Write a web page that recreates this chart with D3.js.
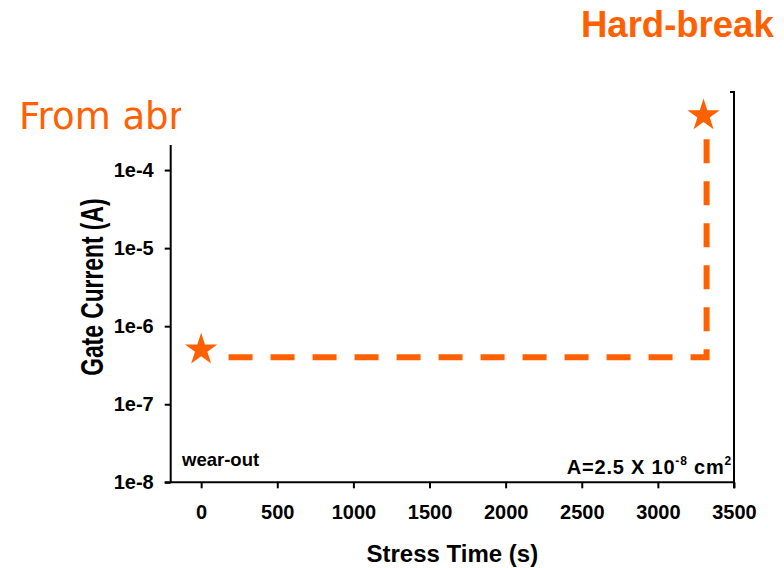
<!DOCTYPE html>
<html>
<head>
<meta charset="utf-8">
<script src="https://cdn.jsdelivr.net/npm/d3@7"></script>
<style>
  html, body { margin: 0; padding: 0; background: #fff; }
  svg { display: block; }
  text { font-family: "Liberation Sans", Arial, sans-serif; }
</style>
</head>
<body>
<svg id="chart" width="784" height="568"></svg>
<script>
// Gate current vs. stress time: wear-out level followed by a hard breakdown
const stressTimes = [0, 3300];             // s, breakdown markers
const gateCurrents = [5e-7, 5e-4];         // A
const traceTimes = [180, 3320, 3320];      // s, dashed trace
const traceCurrents = [4e-7, 4e-7, 2.5e-4];// A
const xTickValues = [0, 500, 1000, 1500, 2000, 2500, 3000, 3500];
const yTickValues = [1e-8, 1e-7, 1e-6, 1e-5, 1e-4];
const yTickLabels = ["1e-8", "1e-7", "1e-6", "1e-5", "1e-4"];

const orange = "#ff6000";
const svg = d3.select("#chart");

const x = d3.scaleLinear().domain([-200, 3500]).range([170.7, 734]);
const y = d3.scaleLog().domain([1e-8, 1e-3]).range([482.3, 92]);

// Slide headings
svg.append("text")
  .attr("x", 581).attr("y", 36.7)
  .attr("fill", orange)
  .style("font-weight", "bold").style("font-size", "36.5px")
  .text("Hard-break");

svg.append("clipPath").attr("id", "subClip")
  .append("rect").attr("x", 0).attr("y", 80).attr("width", 181).attr("height", 70);
svg.append("text")
  .attr("x", 19).attr("y", 129.3)
  .attr("clip-path", "url(#subClip)")
  .attr("fill", orange)
  .style("font-family", "'DejaVu Sans', sans-serif")
  .style("font-size", "37px")
  .text("From abrupt");

// Axes
const yAxis = d3.axisLeft(y)
  .tickValues(yTickValues)
  .tickFormat((d, i) => yTickLabels[i])
  .tickSize(6).tickSizeOuter(0).tickPadding(11);
const gy = svg.append("g").attr("transform", `translate(${x.range()[0]},0)`).call(yAxis);
gy.select(".domain").remove();

const xAxis = d3.axisBottom(x)
  .tickValues(xTickValues)
  .tickFormat(d3.format("d"))
  .tickSize(6).tickSizeOuter(0).tickPadding(17);
const gx = svg.append("g").attr("transform", `translate(0,${y.range()[0]})`).call(xAxis);
gx.select(".domain").remove();

[gx, gy].forEach(g => {
  g.selectAll(".tick line").attr("stroke", "#000").attr("stroke-width", 2);
  g.selectAll(".tick text")
    .attr("fill", "#000")
    .style("font-weight", "bold").style("font-size", "20px");
});

// Frame lines
const frame = svg.append("g").attr("stroke", "#000").attr("stroke-width", 2).attr("fill", "none");
frame.append("line")   // left spine
  .attr("x1", x.range()[0]).attr("x2", x.range()[0])
  .attr("y1", 145).attr("y2", y.range()[0]);
frame.append("line")   // bottom spine
  .attr("x1", x.range()[0] - 6).attr("x2", x.range()[1])
  .attr("y1", y.range()[0]).attr("y2", y.range()[0]);
frame.append("line")   // right spine
  .attr("x1", x.range()[1]).attr("x2", x.range()[1])
  .attr("y1", y.range()[1]).attr("y2", y.range()[0] + 6);
frame.append("line")   // top-right corner
  .attr("x1", x.range()[1] - 4).attr("x2", x.range()[1] + 1)
  .attr("y1", y.range()[1]).attr("y2", y.range()[1]);

// Axis titles
svg.append("text")
  .attr("x", (x.range()[0] + x.range()[1]) / 2).attr("y", 561.7)
  .attr("text-anchor", "middle")
  .style("font-weight", "bold").style("font-size", "24px")
  .text("Stress Time (s)");

svg.append("text")
  .attr("transform", `translate(102.5,${(y.range()[0] + y.range()[1]) / 2}) rotate(-90) scale(1,1.35)`)
  .attr("text-anchor", "middle")
  .style("font-weight", "bold").style("font-size", "22.8px")
  .text("Gate Current (A)");

// Annotations inside the plot
svg.append("text")
  .attr("x", 182).attr("y", 466)
  .style("font-weight", "bold").style("font-size", "18.5px")
  .text("wear-out");

const area = svg.append("text")
  .attr("x", 732).attr("y", 474.3)
  .attr("text-anchor", "end")
  .style("font-weight", "bold").style("font-size", "20px")
  .style("letter-spacing", "0.8px");
area.append("tspan").text("A=2.5 X 10");
area.append("tspan").attr("dy", -9).style("font-size", "12px").text("-8");
area.append("tspan").attr("dy", 9).text(" cm");
area.append("tspan").attr("dy", -9).style("font-size", "12px").text("2");

// Dashed current trace
const trace = d3.line()
  .x(d => x(d[0]))
  .y(d => y(d[1]));
svg.append("path")
  .datum(traceTimes.map((t, i) => [t, traceCurrents[i]]))
  .attr("d", trace)
  .attr("fill", "none")
  .attr("stroke", orange)
  .attr("stroke-width", 6)
  .attr("stroke-dasharray", "24 18")
  .attr("stroke-linejoin", "miter");

// Breakdown markers
svg.selectAll("path.star")
  .data(stressTimes.map((t, i) => [t, gateCurrents[i]]))
  .join("path")
  .attr("class", "star")
  .attr("transform", d => `translate(${x(d[0])},${y(d[1])})`)
  .attr("d", d3.symbol(d3.symbolStar, 325))
  .attr("fill", orange);
</script>
</body>
</html>
